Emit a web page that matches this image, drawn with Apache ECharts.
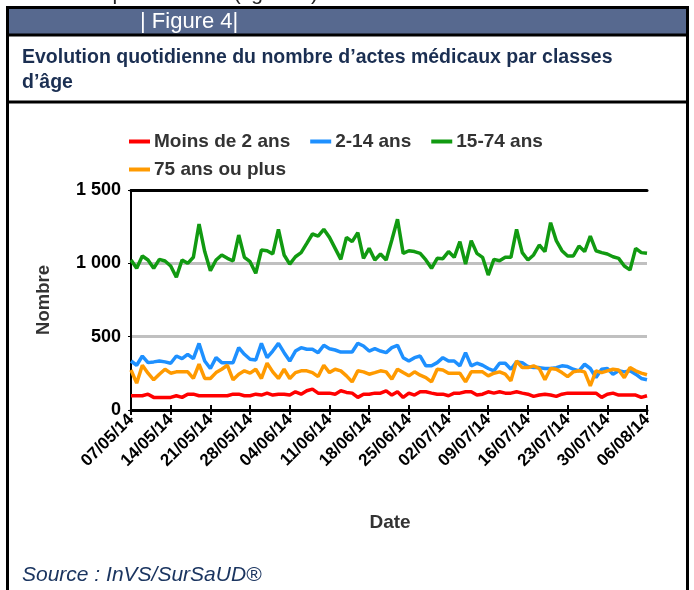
<!DOCTYPE html>
<html><head><meta charset="utf-8">
<script src="https://cdn.jsdelivr.net/npm/echarts@6/dist/echarts.min.js"></script>
<style>html,body{margin:0;padding:0;background:#fff;overflow:hidden}#c{width:694px;height:590px}</style>
</head><body><div id="c"></div>
<script>
// ---- data ----
var startDate = [2014, 4, 7]; // 07/05/14
var dayCount = 92;
var seriesNames = ['Moins de 2 ans', '2-14 ans', '15-74 ans', '75 ans ou plus'];
var yTicks = [0, 500, 1000, 1500];
var moins2 = [97,97,97,108,86,86,86,86,97,86, 108,108,97,97,97,97,97,97,108,108, 97,97,108,102,115,102,108,108,102,124, 108,131,142,115,115,115,108,131,120,115, 86,108,108,
  115,115,131,102,124,86,115, 102,124,124,115,108,108,97,115,115,124, 124,102,108,124,115,124,115,115,124,115, 108,93,102,108,102,93,108,115,115,115, 115,115,115,86,108,115,102,102,102,102, 86,97];
var a2_14 = [334,305,368,323,328,334,328,319,368,350, 380,350,454,334,283,357,323,323,323,425, 380,346,341,454,357,402,454,391,334,402, 425,414,414,391,441,418,409,395,395,395, 455,436,402,
  418,402,391,425,441,357,334, 357,368,301,301,323,357,334,334,301,391, 301,319,305,283,267,319,319,278,328,323, 296,289,289,283,283,289,301,296,278,267, 312,283,221,278,283,244,267,260,267,244, 215,206];
var a15_74 = [1023,966,1050,1023,966,1027,1016,982,905,1023, 1000,1041,1268,1080,950,1023,1057,1034,1016,1193, 1041,1011,932,1091,1086,1064,1232,1057,995,1045, 1073,1136,1200,1186,1232,1177,1102,1027,1177,1148, 1209,1034,1102,1023,1064,1023,1159,1300,1068,1086, 1080,1068,1023,966,1034,1032,1080,1041,1148,995, 1155,1068,1041,920,1027,1018,1041,1041,1232,1073, 1023,1057,1125,1080,1277,1155,1086,1050,1050,1118, 1080,1186,1086,1073,1064,1045,1034,982,955,1102, 1073,1068];
var a75 = [273,183,305,251,206,244,278,251,260,260, 260,215,312,215,215,255,278,305,206,244, 267,251,278,215,319,260,215,278,215,255, 267,267,255,228,305,255,278,267,233,192, 267,260,244,
  255,267,260,210,278,255,233, 260,237,221,192,278,273,251,251,251,192, 260,260,260,233,251,260,244,199,334,289, 289,301,283,206,283,278,255,228,260,267, 260,165,267,255,267,278,273,221,289,267, 251,240];

function pad(n){return (n<10?'0':'')+n;}
var dates = [];
for (var i = 0; i < dayCount; i++) {
  var d = new Date(startDate[0], startDate[1], startDate[2] + i);
  dates.push(pad(d.getDate()) + '/' + pad(d.getMonth()+1) + '/' + String(d.getFullYear()).slice(2));
}
var colors = ['#ff0000', '#1e90ff', '#119a11', '#ff9a00'];

var chart = echarts.init(document.getElementById('c'), null, {renderer: 'canvas'});
var fontFam = 'Liberation Sans, Arial, sans-serif';
function fmt(v){ return v >= 1000 ? Math.floor(v/1000) + ' ' + String(v%1000).padStart(3,'0') : String(v); }

var legendText = {fontFamily: fontFam, fontSize: 19, fontWeight: 'bold', color: '#333', padding: [0,0,0,-1]};
var option = {
  backgroundColor: '#fff',
  animation: false,
  color: colors,
  textStyle: {fontFamily: fontFam},
  legend: [{
    left: 124, top: 127, itemWidth: 21, itemHeight: 4, itemGap: 20,
    icon: 'rect',
    data: seriesNames.slice(0, 3),
    textStyle: legendText
  }, {
    left: 124, top: 155, itemWidth: 21, itemHeight: 4,
    icon: 'rect',
    data: seriesNames.slice(3),
    textStyle: legendText
  }],
  grid: {left: 131, right: 47, top: 190, bottom: 180, containLabel: false},
  xAxis: [{
    type: 'category', data: dates, boundaryGap: false, position: 'bottom',
    axisLine: {lineStyle: {color: '#000', width: 3}},
    axisTick: {show: true, interval: 6, length: 5, lineStyle: {color: '#000', width: 2}},
    axisLabel: {interval: 6, rotate: 45, fontSize: 17, fontWeight: 'bold', color: '#000', fontFamily: fontFam, margin: 7},
    splitLine: {show: false}
  }, {
    type: 'category', data: dates, boundaryGap: false, position: 'bottom',
    axisLine: {show: false},
    axisTick: {show: true, inside: true, interval: 6, length: 5, lineStyle: {color: '#000', width: 2}},
    axisLabel: {show: false}, splitLine: {show: false}
  }, {
    type: 'category', data: dates, boundaryGap: false, position: 'top',
    axisLine: {lineStyle: {color: '#000', width: 3}},
    axisTick: {show: false}, axisLabel: {show: false}, splitLine: {show: false}
  }],
  yAxis: {
    type: 'value', min: 0, max: 1500, interval: 500,
    axisLine: {show: true, lineStyle: {color: '#000', width: 2}},
    axisTick: {show: true, length: 3, lineStyle: {color: '#000', width: 1}},
    axisLabel: {fontSize: 18, fontWeight: 'bold', color: '#000', fontFamily: fontFam, margin: 10,
      formatter: function(v){ return fmt(v); }},
    splitLine: {show: true, lineStyle: {color: '#c0c0c0', width: 3}}
  },
  series: [
    {name: seriesNames[0], type: 'line', data: moins2, symbol: 'none', lineStyle: {width: 3.5}, z: 5},
    {name: seriesNames[1], type: 'line', data: a2_14, symbol: 'none', lineStyle: {width: 3.5}, z: 4},
    {name: seriesNames[2], type: 'line', data: a15_74, symbol: 'none', lineStyle: {width: 3.5}, z: 3},
    {name: seriesNames[3], type: 'line', data: a75, symbol: 'none', lineStyle: {width: 3.5}, z: 6}
  ],
  graphic: [
    {type: 'text', left: -2, top: -16, style: {text: 'des années précédentes (figure 3).', font: '21px ' + fontFam, fill: '#222'}},
    {type: 'rect', shape: {x: 7, y: 8, width: 681, height: 27}, style: {fill: '#57698f'}, z: 0},
    {type: 'rect', shape: {x: 7.5, y: 7.5, width: 680, height: 620}, style: {fill: 'none', stroke: '#000', lineWidth: 3}, z: 10},
    {type: 'line', shape: {x1: 7, y1: 35, x2: 688, y2: 35}, style: {stroke: '#000', lineWidth: 3}, z: 10},
    {type: 'line', shape: {x1: 7, y1: 102, x2: 688, y2: 102}, style: {stroke: '#000', lineWidth: 3}, z: 10},
    {type: 'text', x: 140, y: 22, style: {text: '| Figure 4|', font: '22px ' + fontFam, fill: '#fff', textVerticalAlign: 'middle'}, z: 11},
    {type: 'text', x: 22, y: 58, style: {text: 'Evolution quotidienne du nombre d\u2019actes médicaux par classes', font: 'bold 19.5px ' + fontFam, fill: '#1b2f52', textVerticalAlign: 'middle'}, z: 11},
    {type: 'text', x: 22, y: 83, style: {text: 'd\u2019âge', font: 'bold 19.5px ' + fontFam, fill: '#1b2f52', textVerticalAlign: 'middle'}, z: 11},
    {type: 'text', x: 44, y: 300, rotation: Math.PI/2, style: {text: 'Nombre', font: 'bold 18.5px ' + fontFam, fill: '#333', textAlign: 'center', textVerticalAlign: 'middle'}, z: 11},
    {type: 'text', x: 390, y: 523, style: {text: 'Date', font: 'bold 19px ' + fontFam, fill: '#333', textAlign: 'center', textVerticalAlign: 'middle'}, z: 11},
    {type: 'text', x: 22, y: 575, style: {text: 'Source : InVS/SurSaUD®', font: 'italic 21px ' + fontFam, fill: '#1b3560', textVerticalAlign: 'middle'}, z: 11}
  ]
};
chart.setOption(option);
</script>
</body></html>
